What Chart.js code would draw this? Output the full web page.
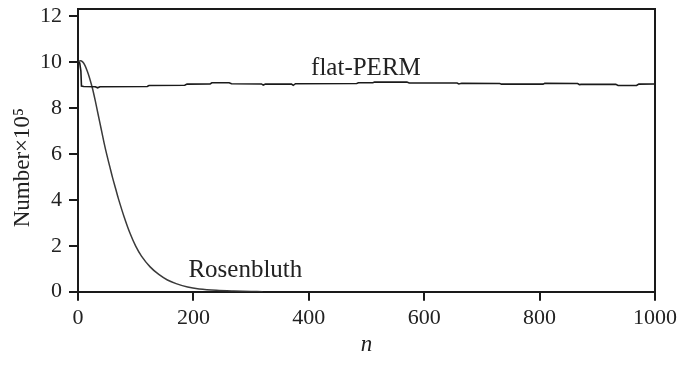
<!DOCTYPE html>
<html>
<head>
<meta charset="utf-8">
<script src="https://cdn.jsdelivr.net/npm/chart.js@4.4.1/dist/chart.umd.min.js"></script>
<style>
  html, body { margin: 0; padding: 0; background: #fff; }
  #wrap { width: 677px; height: 365px; }
</style>
</head>
<body>
<div id="wrap"><canvas id="c" width="677" height="365"></canvas></div>
<script>
// ---- data ----
const xTicks = [0, 200, 400, 600, 800, 1000];
const yTicks = [0, 2, 4, 6, 8, 10, 12];

const flatN = [0, 3, 5, 6, 10, 30, 34, 38, 120, 123, 185, 189, 229, 232, 262, 266, 318, 321, 325, 370, 373, 377, 483, 486, 511, 514, 570, 574, 657, 660, 665, 731, 734, 806, 809, 866, 869, 872, 932, 936, 968, 972, 1000];
const flatV = [10.0, 9.95, 9.6, 8.95, 8.93, 8.92, 8.87, 8.92, 8.93, 8.97, 8.98, 9.03, 9.04, 9.09, 9.09, 9.05, 9.04, 8.99, 9.04, 9.03, 8.98, 9.05, 9.06, 9.09, 9.09, 9.12, 9.12, 9.08, 9.08, 9.04, 9.07, 9.06, 9.03, 9.03, 9.07, 9.06, 9.01, 9.02, 9.02, 8.97, 8.97, 9.03, 9.04];

const roseN = [0, 4, 8, 12, 16, 20, 25, 30, 35, 40, 45, 50, 55, 60, 65, 70, 80, 90, 100, 110, 125, 140, 155, 170, 190, 210, 240, 270, 300, 320];
const roseV = [10.0, 10.05, 10.0, 9.85, 9.6, 9.3, 8.85, 8.3, 7.7, 7.1, 6.5, 5.95, 5.45, 4.95, 4.5, 4.05, 3.25, 2.55, 1.98, 1.55, 1.08, 0.75, 0.51, 0.35, 0.2, 0.12, 0.06, 0.03, 0.01, 0.0];

const seriesNames = ["flat-PERM", "Rosenbluth"];

// ---- build chart ----
const FONT = "'Liberation Serif', 'DejaVu Serif', serif";
const INK = '#1a1a1a';
const toPts = (xs, ys) => xs.map((x, i) => ({ x: x, y: ys[i] }));

const labelPos = [
  { text: seriesNames[0], n: 499, v: 9.42 },
  { text: seriesNames[1], n: 290, v: 0.65 }
];

const framePlugin = {
  id: 'frame',
  afterDraw(chart) {
    const { ctx, chartArea: a } = chart;
    ctx.save();
    ctx.strokeStyle = INK;
    ctx.lineWidth = 2;
    ctx.beginPath();
    ctx.moveTo(a.left, a.top);
    ctx.lineTo(a.right, a.top);
    ctx.lineTo(a.right, a.bottom);
    ctx.stroke();
    ctx.restore();
  },
  afterDatasetsDraw(chart) {
    const { ctx, scales } = chart;
    ctx.save();
    ctx.fillStyle = '#222';
    ctx.font = "25px " + FONT;
    ctx.textAlign = 'center';
    ctx.textBaseline = 'alphabetic';
    labelPos.forEach(l => {
      ctx.fillText(l.text, scales.x.getPixelForValue(l.n), scales.y.getPixelForValue(l.v));
    });
    ctx.restore();
  }
};

new Chart(document.getElementById('c'), {
  type: 'line',
  data: {
    datasets: [
      { label: seriesNames[0], data: toPts(flatN, flatV), borderColor: INK, borderWidth: 1.6, pointRadius: 0, tension: 0, fill: false },
      { label: seriesNames[1], data: toPts(roseN, roseV), borderColor: '#3a3a3a', borderWidth: 1.5, pointRadius: 0, tension: 0.3, fill: false }
    ]
  },
  options: {
    responsive: false,
    animation: false,
    devicePixelRatio: 1,
    layout: { padding: { left: 0, right: 22, top: 9, bottom: 0 } },
    plugins: { legend: { display: false }, tooltip: { enabled: false } },
    scales: {
      x: {
        type: 'linear', min: 0, max: 1000,
        afterBuildTicks: s => { s.ticks = xTicks.map(v => ({ value: v })); },
        afterFit: s => { s.height = 73.3; s.paddingRight = 0; s.paddingLeft = 0; },
        grid: { drawOnChartArea: false, drawTicks: true, tickLength: 9, color: INK, lineWidth: 2 },
        border: { display: true, color: INK, width: 2 },
        ticks: { color: '#222', font: { family: FONT, size: 22 }, padding: 4, maxRotation: 0, autoSkip: false, callback: v => String(v) },
        title: { display: true, text: 'n', color: '#222', font: { family: FONT, size: 23, style: 'italic' }, padding: { top: 0, bottom: 6 } }
      },
      y: {
        type: 'linear', min: 0, max: 12.3,
        afterBuildTicks: s => { s.ticks = yTicks.map(v => ({ value: v })); },
        afterFit: s => { s.width = 78; s.paddingTop = 0; s.paddingBottom = 0; },
        grid: { drawOnChartArea: false, drawTicks: true, tickLength: 9, color: INK, lineWidth: 2 },
        border: { display: true, color: INK, width: 2 },
        ticks: { color: '#222', font: { family: FONT, size: 22 }, padding: 7, autoSkip: false, callback: v => String(v) },
        title: { display: true, text: 'Number\u00D710\u2075      ', color: '#222', font: { family: FONT, size: 23 }, padding: { top: 9, bottom: 0 } }
      }
    }
  },
  plugins: [framePlugin]
});
</script>
</body>
</html>
